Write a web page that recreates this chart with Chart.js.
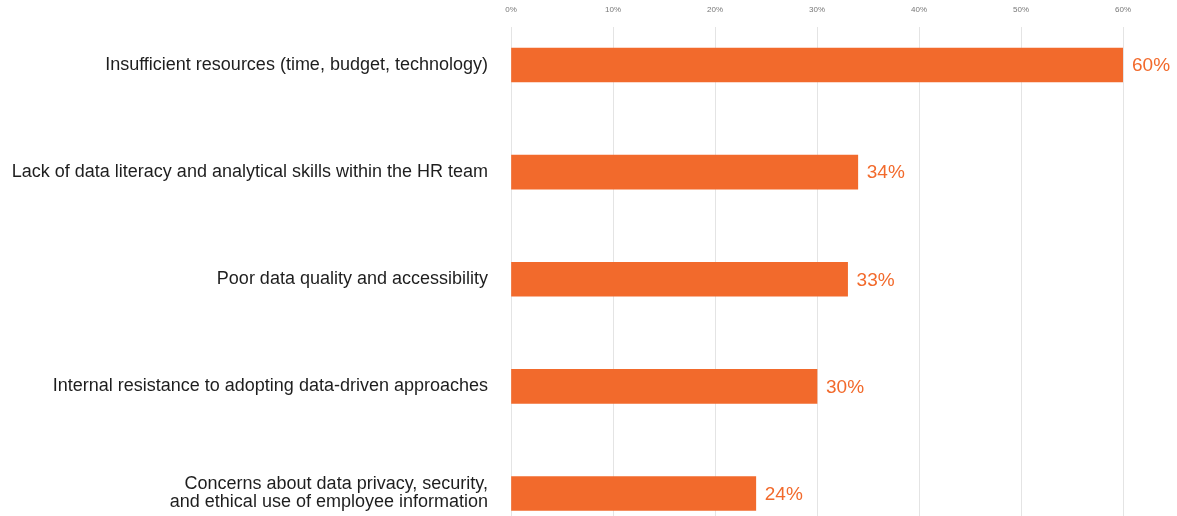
<!DOCTYPE html>
<html>
<head>
<meta charset="utf-8">
<script src="https://cdn.jsdelivr.net/npm/chart.js@4/dist/chart.umd.min.js"></script>
<style>
  html, body { margin: 0; padding: 0; background: #fff; overflow: hidden; }
  #wrap { width: 1177px; height: 516px; position: relative; }
</style>
</head>
<body>
<div id="wrap"><canvas id="barChart"></canvas></div>
<script>
// Chart data
const categories = [
   "Insufficient resources (time, budget, technology)",
   "Lack of data literacy and analytical skills within the HR team",
   "Poor data quality and accessibility",
   "Internal resistance to adopting data-driven approaches",
   ["Concerns about data privacy, security,", "and ethical use of employee information"],
];
const values = [60, 34, 33, 30, 24];
const xTicks = [0, 10, 20, 30, 40, 50, 60];

const barColor = "#f26a2c";
const fontFamily = "'Liberation Sans', Arial, Helvetica, sans-serif";

// Draws the "60%" style labels at the end of each bar
const valueLabels = {
   id: "valueLabels",
   afterDatasetsDraw(chart) {
      const ctx = chart.ctx;
      const meta = chart.getDatasetMeta(0);
      ctx.save();
      ctx.font = "19px " + fontFamily;
      ctx.fillStyle = barColor;
      ctx.textAlign = "left";
      ctx.textBaseline = "middle";
      meta.data.forEach((bar, i) => {
         ctx.fillText(values[i] + "%", bar.x + 9, bar.y + 1);
      });
      ctx.restore();
   },
};

document.addEventListener("DOMContentLoaded", function () {
   const ctx = document.getElementById("barChart").getContext("2d");
   new Chart(ctx, {
      type: "bar",
      data: {
         datasets: [
            {
               data: values.map((v, i) => ({ x: v, y: i })),
               backgroundColor: barColor,
               borderWidth: 0,
               barThickness: 34,
            },
         ],
      },
      options: {
         indexAxis: "y",
         responsive: true,
         maintainAspectRatio: false,
         animation: false,
         layout: { autoPadding: false, padding: { left: 0, right: 54, top: 0, bottom: 0 } },
         plugins: {
            legend: { display: false },
            tooltip: { enabled: false },
         },
         scales: {
            x: {
               type: "linear",
               position: "top",
               min: xTicks[0],
               max: xTicks[xTicks.length - 1],
               afterFit: (scale) => { scale.height = 27; },
               afterBuildTicks: (scale) => { scale.ticks = xTicks.map((v) => ({ value: v })); },
               grid: { color: "#e4e4e4", lineWidth: 1, drawTicks: false },
               border: { display: false },
               ticks: {
                  padding: 12,
                  color: "#777",
                  font: { family: fontFamily, size: 8 },
                  callback: (v) => v + "%",
               },
            },
            y: {
               type: "linear",
               reverse: true,
               offset: false,
               min: -0.355,
               max: 4.21,
               afterFit: (scale) => {
                  scale.width = 511;
                  scale.paddingTop = 0;
                  scale.paddingBottom = 0;
               },
               grid: { display: false, drawTicks: false, offset: false },
               border: { display: false },
               ticks: {
                  stepSize: 1,
                  includeBounds: false,
                  padding: 23,
                  color: "#1e1e1e",
                  font: { family: fontFamily, size: 18, lineHeight: 1.0 },
                  callback: (v) => (Number.isInteger(v) && categories[v] !== undefined ? categories[v] : ""),
               },
            },
         },
      },
      plugins: [valueLabels],
   });
});
</script>
</body>
</html>
